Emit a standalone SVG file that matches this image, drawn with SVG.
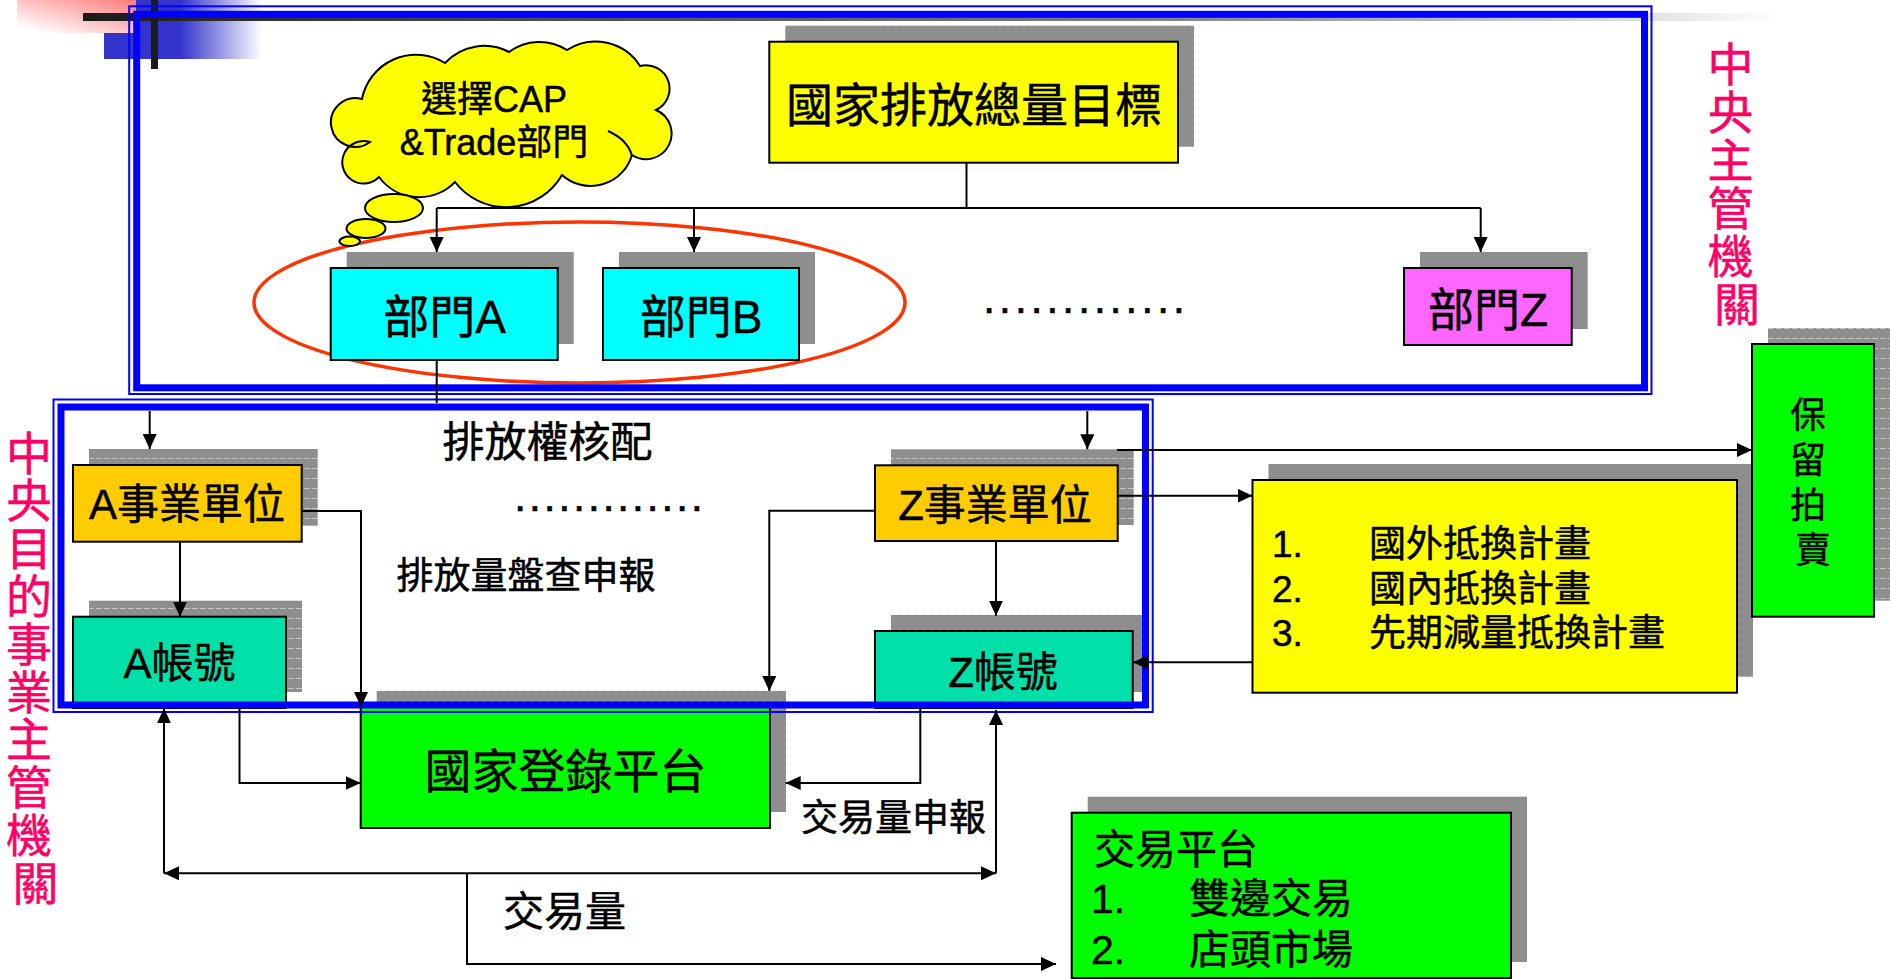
<svg xmlns="http://www.w3.org/2000/svg" width="1892" height="979" viewBox="0 0 1892 979">
<defs>
<style>
text { font-family: "Liberation Sans", "Noto Sans CJK TC", sans-serif; fill: #000; stroke: #000; stroke-width: 0.5; }
.box { stroke: #000; stroke-width: 2; }
.sh { fill: url(#dither); }
.shs { fill: url(#stripe); }
.ln { fill: none; stroke: #000; stroke-width: 2; }
.arr { marker-end: url(#ah); }
.mag { fill: #FF0066; stroke: #FF0066; font-size: 46px; }
.fthin { fill: none; stroke: #0000FF; stroke-width: 2; }
.fthick { fill: none; stroke: #0000FF; stroke-width: 7; }
</style>
<pattern id="dither" width="2" height="2" patternUnits="userSpaceOnUse">
<rect width="2" height="2" fill="#9a9a9a"/>
<rect width="1" height="1" fill="#828282"/>
<rect x="1" y="1" width="1" height="1" fill="#828282"/>
</pattern>
<pattern id="stripe" width="8" height="10" patternUnits="userSpaceOnUse">
<rect width="8" height="10" fill="#8e8e8e"/>
<rect x="0" y="8" width="6" height="1" fill="#c4c4c4"/>
</pattern>
<linearGradient id="pinkG" x1="0.1" y1="0.9" x2="1" y2="0">
<stop offset="0" stop-color="#FFFFFF"/>
<stop offset="1" stop-color="#FF7A7A"/>
</linearGradient>
<linearGradient id="blueG" gradientUnits="userSpaceOnUse" x1="180" y1="0" x2="262" y2="0">
<stop offset="0" stop-color="#3333CC"/>
<stop offset="1" stop-color="#FFFFFF"/>
</linearGradient>
<linearGradient id="barG" gradientUnits="userSpaceOnUse" x1="83" y1="0" x2="1783" y2="0">
<stop offset="0" stop-color="#1a1a1a"/>
<stop offset="0.19" stop-color="#404040"/>
<stop offset="0.63" stop-color="#808080"/>
<stop offset="0.92" stop-color="#e2e2e2"/>
<stop offset="1" stop-color="#ffffff"/>
</linearGradient>
<marker id="ah" viewBox="0 0 15 14" markerWidth="15" markerHeight="14" refX="15" refY="7" orient="auto-start-reverse" markerUnits="userSpaceOnUse">
<path d="M0,0 L15,7 L0,14 Z" fill="#000"/>
</marker>
</defs>

<g id="decor">
<rect x="17" y="0" width="119" height="33" fill="url(#pinkG)"/>
<path d="M136,0 H262 V59 H104 V33 H136 Z" fill="url(#blueG)"/>
<rect x="83" y="13" width="1700" height="8" fill="url(#barG)"/>
<rect x="151" y="0" width="7" height="69" fill="#1a1a1a"/>
</g>

<g id="selection-ellipse">
<ellipse cx="579.5" cy="302.5" rx="325.5" ry="80.5" fill="none" stroke="#FF3300" stroke-width="3.5"/>
</g>

<g id="cloud">
<path d="M362,99 A55,55 0 0 1 445,63 A53.5,53.5 0 0 1 509,52 A51,51 0 0 1 567,50 A52.7,52.7 0 0 1 640,66 A23.5,23.5 0 0 1 656,110 A25.6,25.6 0 1 1 632,155 A43,43 0 0 1 562,175 A64.5,64.5 0 0 1 455,182 A50,50 0 0 1 379,177 A21.3,21.3 0 1 1 370,142 A24.4,24.4 0 1 1 362,99 Z" fill="#FFFF00" stroke="#000" stroke-width="2"/>
<path d="M632,156 Q628,140 608,131" class="ln"/>
<ellipse cx="394" cy="208" rx="29" ry="14" fill="#FFFF00" stroke="#000" stroke-width="2"/>
<ellipse cx="366" cy="228.5" rx="19.5" ry="9.5" fill="#FFFF00" stroke="#000" stroke-width="2"/>
<ellipse cx="349.7" cy="241.3" rx="10.3" ry="4.7" fill="#FFFF00" stroke="#000" stroke-width="2"/>
<text x="494" y="112" font-size="36" text-anchor="middle">選擇CAP</text>
<text x="494" y="155" font-size="36" text-anchor="middle">&amp;Trade部門</text>
</g>

<g id="national-target">
<rect class="sh" x="785.3" y="25.7" width="408.7" height="121"/>
<rect class="box" x="769.3" y="41.7" width="408.7" height="121" fill="#FFFF00"/>
<text x="974" y="121.5" font-size="47" text-anchor="middle">國家排放總量目標</text>
</g>

<g id="dept-a">
<rect class="sh" x="346.7" y="252" width="227" height="92"/>
<rect class="box" x="330.7" y="268" width="227" height="92" fill="#00FFFF"/>
<text x="444.5" y="333" font-size="46" text-anchor="middle">部門A</text>
</g>

<g id="dept-b">
<rect class="sh" x="619" y="252" width="196" height="92"/>
<rect class="box" x="603" y="268" width="196" height="92" fill="#00FFFF"/>
<text x="701" y="333" font-size="46" text-anchor="middle">部門B</text>
</g>

<g id="dept-z">
<rect class="sh" x="1420" y="252" width="167.7" height="77"/>
<rect class="box" x="1404" y="268" width="167.7" height="77" fill="#FF66FF"/>
<text x="1488" y="326" font-size="46" text-anchor="middle">部門Z</text>
</g>

<g id="unit-a">
<rect class="shs" x="89" y="449" width="228.7" height="76.7"/>
<rect class="box" x="73" y="465" width="228.7" height="76.7" fill="#FFCC00"/>
<text x="187" y="519" font-size="42" text-anchor="middle">A事業單位</text>
</g>

<g id="account-a">
<rect class="shs" x="89" y="600.7" width="213" height="91.3"/>
<rect class="box" x="73" y="616.7" width="213" height="91.3" fill="#00E0A8"/>
<text x="179.5" y="678" font-size="42" text-anchor="middle">A帳號</text>
</g>

<g id="unit-z">
<rect class="shs" x="891" y="449.3" width="242.7" height="75.7"/>
<rect class="box" x="875" y="465.3" width="242.7" height="75.7" fill="#FFCC00"/>
<text x="995" y="519.5" font-size="42" text-anchor="middle">Z事業單位</text>
</g>

<g id="account-z">
<rect class="sh" x="891" y="615" width="257.7" height="77"/>
<rect class="box" x="875" y="631" width="257.7" height="77" fill="#00E0A8"/>
<text x="1003" y="686.5" font-size="42" text-anchor="middle">Z帳號</text>
</g>

<g id="registry">
<rect class="sh" x="376.7" y="691" width="409.3" height="121"/>
<rect class="box" x="360.7" y="707" width="409.3" height="121" fill="#00FF00"/>
<text x="565.5" y="787.5" font-size="47" text-anchor="middle">國家登錄平台</text>
</g>

<g id="offsets">
<rect class="sh" x="1268.5" y="464" width="484.5" height="212.7"/>
<rect class="box" x="1252.5" y="480" width="484.5" height="212.7" fill="#FFFF00"/>
<text font-size="37">
<tspan x="1272" y="557">1.</tspan><tspan x="1369" y="557">國外抵換計畫</tspan>
<tspan x="1272" y="602">2.</tspan><tspan x="1369" y="602">國內抵換計畫</tspan>
<tspan x="1272" y="646">3.</tspan><tspan x="1369" y="646">先期減量抵換計畫</tspan>
</text>
</g>

<g id="auction">
<rect class="shs" x="1768" y="328" width="122" height="272.7"/>
<rect class="box" x="1752" y="344" width="122" height="272.7" fill="#00FF00"/>
<text font-size="36" text-anchor="middle">
<tspan x="1813" y="428.4">保</tspan>
<tspan x="1813" y="473.4">留</tspan>
<tspan x="1813" y="518.4">拍</tspan>
<tspan x="1813" y="563.4">賣</tspan>
</text>
</g>

<g id="trading">
<rect class="sh" x="1087.7" y="796.7" width="439.3" height="165.3"/>
<rect class="box" x="1071.7" y="812.7" width="439.3" height="165.3" fill="#00FF00"/>
<text font-size="41">
<tspan x="1094" y="863.5">交易平台</tspan>
<tspan x="1091" y="913">1.</tspan><tspan x="1189" y="913">雙邊交易</tspan>
<tspan x="1091" y="964">2.</tspan><tspan x="1189" y="964">店頭市場</tspan>
</text>
</g>

<g id="frame-central">
<rect class="fthin" x="129.2" y="6.3" width="1522.3" height="387.7"/>
<rect class="fthick" x="136.7" y="14.3" width="1507.8" height="373.5"/>
</g>

<g id="frame-sector">
<rect class="fthin" x="53.5" y="399.5" width="1099.2" height="312.5"/>
<rect class="fthick" x="61" y="407" width="1084.5" height="298"/>
</g>

<g id="connectors">
<path class="ln" d="M966.5,163 V208"/>
<path class="ln" d="M436.7,208 H1480.7"/>
<path class="ln arr" d="M436.7,208 V252"/>
<path class="ln arr" d="M694,208 V252"/>
<path class="ln arr" d="M1480.7,208 V252"/>
<path class="ln" d="M436.7,360 V403"/>
<path class="ln arr" d="M149.7,411 V449"/>
<path class="ln arr" d="M1087.3,411 V449.3"/>
<path class="ln arr" d="M180,541.7 V616.7"/>
<path class="ln arr" d="M301.7,511 H361 V707"/>
<path class="ln arr" d="M239.5,708 V783 H360.7"/>
<path class="ln arr" d="M875,510.7 H769.3 V691"/>
<path class="ln arr" d="M996,541 V615.7"/>
<path class="ln arr" d="M920.3,708 V783 H785.7"/>
<path class="ln arr" d="M164,873.3 V708.3"/>
<path class="ln arr" d="M996,873.3 V710"/>
<path class="ln arr" d="M164,873.3 H996" style="marker-start:url(#ah)"/>
<path class="ln arr" d="M467,873.3 V964 H1056"/>
<path class="ln arr" d="M1117,450 H1752"/>
<path class="ln arr" d="M1117.7,495.7 H1252.5"/>
<path class="ln arr" d="M1252.5,662.3 H1133"/>
</g>

<g id="labels">
<text x="983" y="313" font-size="44" textLength="202" lengthAdjust="spacing">.............</text>
<text x="514" y="510.5" font-size="44" textLength="189" lengthAdjust="spacing">.............</text>
<text x="547.5" y="457.2" font-size="42" text-anchor="middle">排放權核配</text>
<text x="526" y="588.8" font-size="37" text-anchor="middle">排放量盤查申報</text>
<text x="801" y="831.3" font-size="37">交易量申報</text>
<text x="503" y="926" font-size="41">交易量</text>
<text class="mag" text-anchor="middle">
<tspan x="1737" y="81">中</tspan>
<tspan x="1737" y="129">央</tspan>
<tspan x="1737" y="177">主</tspan>
<tspan x="1737" y="225">管</tspan>
<tspan x="1737" y="273">機</tspan>
<tspan x="1737" y="321">關</tspan>
</text>
<text class="mag" text-anchor="middle">
<tspan x="35.5" y="469.5">中</tspan>
<tspan x="35.5" y="517.3">央</tspan>
<tspan x="35.5" y="565.1">目</tspan>
<tspan x="35.5" y="612.9">的</tspan>
<tspan x="35.5" y="660.7">事</tspan>
<tspan x="35.5" y="708.5">業</tspan>
<tspan x="35.5" y="756.3">主</tspan>
<tspan x="35.5" y="804.1">管</tspan>
<tspan x="35.5" y="851.9">機</tspan>
<tspan x="35.5" y="899.7">關</tspan>
</text>
</g>
</svg>
